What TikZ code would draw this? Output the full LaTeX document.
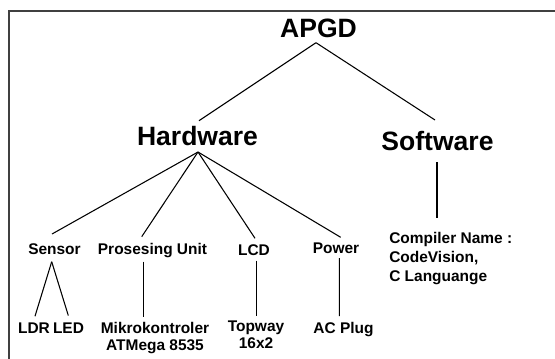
\documentclass[tikz,border=0pt]{standalone}
\usepackage{fontspec}
\setmainfont{Liberation Sans}
\usetikzlibrary{calc}
\begin{document}
\begin{tikzpicture}[x=0.75pt,y=-0.75pt,
  big/.style={inner sep=0pt,anchor=base,font=\fontsize{19.9pt}{22pt}\selectfont\bfseries},
  small/.style={inner sep=0pt,anchor=base,font=\fontsize{11.6pt}{12.5pt}\selectfont\bfseries},
  multi/.style={inner sep=0pt,align=center,font=\fontsize{11.6pt}{12.5pt}\selectfont\bfseries},
  conn/.style={draw=black,line width=0.8pt},
  frame/.style={draw=black!75,line width=1.3pt}]
\useasboundingbox (0,0) rectangle (555,358);
\draw[frame] (9,360) -- (9,11) -- (557,11);
% nodes
\node[big] (apgd) at (318.5,37) {APGD};
\node[big] (hw) at (197.5,145) {Hardware};
\node[big] (sw) at (437.5,150) {Software};
\node[small] (sen) at (54.5,254) {Sensor};
\node[small] (pu) at (152.5,254) {Prosesing Unit};
\node[small] (lcd) at (254,255) {LCD};
\node[small] (pow) at (336,253) {Power};
\node[multi,align=left,anchor=north west,font=\fontsize{11.6pt}{14.25pt}\selectfont\bfseries] (comp) at (389,231.8) {Compiler Name :\\CodeVision,\\C Languange};
\node[small] (ldr) at (34,333.5) {LDR};
\node[small] (led) at (68.5,333.5) {LED};
\node[multi,anchor=north] (mik) at (155,322) {Mikrokontroler\\ATMega 8535};
\node[multi,anchor=north] (top) at (256,320.7) {Topway\\16x2};
\node[small] (ac) at (343.5,333.3) {AC Plug};
% connectors
\draw[conn] ($(apgd.base)+(-2.5,5.7)$) -- ($(hw.base)+(1.5,-24.3)$);
\draw[conn] ($(apgd.base)+(-2.5,5.7)$) -- ($(sw.base)+(-2.5,-30)$);
\draw[conn] ($(hw.base)+(0.5,7)$) -- ($(sen.base)+(-2.5,-20)$);
\draw[conn] ($(hw.base)+(0.5,7)$) -- ($(pu.base)+(-10.8,-17.3)$);
\draw[conn] ($(hw.base)+(0.5,7)$) -- ($(lcd.base)+(1,-16.7)$);
\draw[conn] ($(hw.base)+(0.5,7)$) -- ($(pow.base)+(4.7,-15.7)$);
\draw[conn] ($(sw.base)+(-0.5,12)$) -- ($(comp.north west)+(48,-13.8)$);
\draw[conn] ($(sen.base)+(-2.8,7.7)$) -- ($(ldr.base)+(1,-17.3)$);
\draw[conn] ($(sen.base)+(-2.8,7.7)$) -- ($(led.base)+(-0.2,-18)$);
\draw[conn] ($(pu.base)+(-9.2,7.7)$) -- ($(mik.north)+(-11.7,-5)$);
\draw[conn] ($(lcd.base)+(2.7,5.7)$) -- ($(top.north)+(0.7,-5)$);
\draw[conn] ($(pow.base)+(3.3,5)$) -- ($(ac.base)+(-4.2,-17.3)$);
\end{tikzpicture}
\end{document}
